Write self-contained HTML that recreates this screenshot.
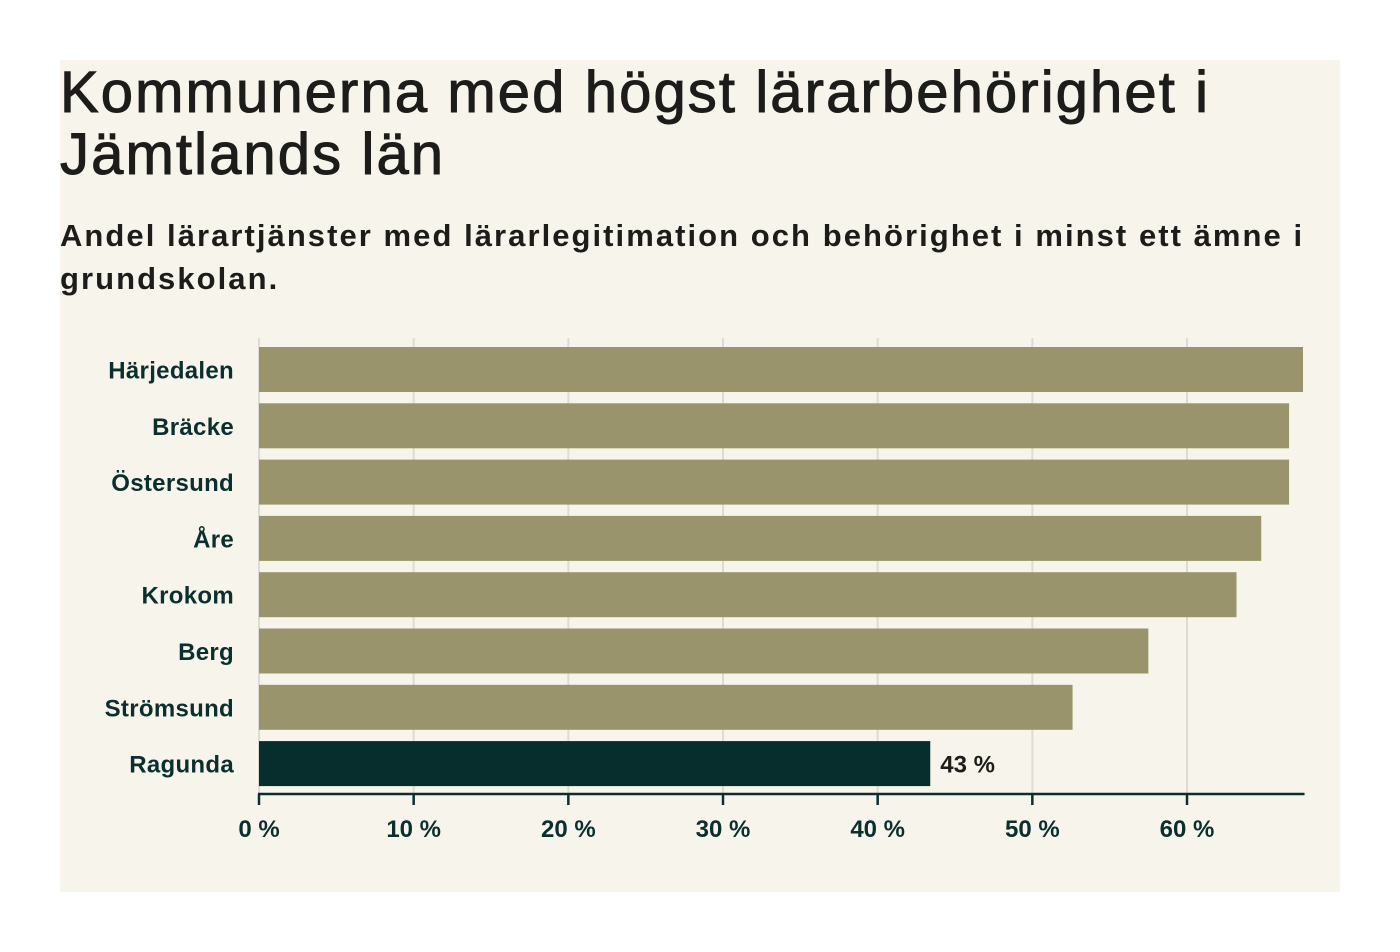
<!DOCTYPE html>
<html><head><meta charset="utf-8">
<style>
html,body{margin:0;padding:0;background:#fff;width:1400px;height:952px;overflow:hidden;}
#panel{position:absolute;left:60px;top:60px;width:1280px;height:832px;background:#f7f5eb;}
h1{position:absolute;left:60px;top:62px;margin:0;font-family:"Liberation Sans",sans-serif;font-weight:400;font-size:58px;line-height:62px;color:#1c1c1a;letter-spacing:2.1px;width:1280px;-webkit-text-stroke:1px #1c1c1a;}
h2{position:absolute;left:60px;top:214px;margin:0;font-family:"Liberation Sans",sans-serif;font-weight:700;font-size:31px;line-height:43px;color:#1c1c1a;width:1280px;letter-spacing:2.05px;}
svg{position:absolute;left:0;top:0;}
</style></head><body>
<div id="panel"></div>
<h1>Kommunerna med högst lärarbehörighet i Jämtlands län</h1>
<h2>Andel lärartjänster med lärarlegitimation och behörighet i minst ett ämne i grundskolan.</h2>
<svg id="chart" width="1400" height="952"></svg>
<script>
const categories=["Härjedalen","Bräcke","Östersund","Åre","Krokom","Berg","Strömsund","Ragunda"];
const values=[67.5,66.6,66.6,64.8,63.2,57.5,52.6,43.4];
const highlight=["Ragunda"];
const ticks=[0,10,20,30,40,50,60];
const tickLabels=["0 %","10 %","20 %","30 %","40 %","50 %","60 %"];
const valueLabels={"Ragunda":"43 %"};

const NS="http://www.w3.org/2000/svg";
const svg=document.getElementById('chart');
const x0=259, pxPer=(1187-259)/60, xMax=67.6;
const x=v=>x0+v*pxPer;
const top0=347, pitch=56.3, bh=45;
const y=i=>top0+i*pitch;
const axisY=794;
function mk(t,a){const e=document.createElementNS(NS,t);for(const k in a)e.setAttribute(k,a[k]);svg.appendChild(e);return e;}
ticks.forEach((t,i)=>{
  const g=mk('line',{x1:x(t),x2:x(t),y1:338,y2:axisY,stroke:'#dddbd3','stroke-width':2});
  
  
});
categories.forEach((c,i)=>{
  const r=mk('rect',{x:x0,y:y(i),width:x(values[i])-x0,height:bh,fill:highlight.includes(c)?'#082d2d':'#99946b'});
  
  
  const l=mk('text',{x:234,y:y(i)+bh/2+9,'text-anchor':'end','font-family':'Liberation Sans, sans-serif','font-size':24,'font-weight':'bold','letter-spacing':0.3,fill:'#0b2e2e'});
  l.textContent=c;
  
  
  if(valueLabels[c]){
    const v=mk('text',{x:x(values[i])+10,y:y(i)+bh/2+9,'font-family':'Liberation Sans, sans-serif','font-size':24,'font-weight':'bold',fill:'#1c1c1a'});
    v.textContent=valueLabels[c];
    
    
  }
});
const ax=mk('line',{x1:x0-1,x2:x(xMax),y1:axisY,y2:axisY,stroke:'#0b2e2e','stroke-width':2.5});


ticks.forEach((t,i)=>{
  const tk=mk('line',{x1:x(t),x2:x(t),y1:axisY,y2:axisY+11,stroke:'#0b2e2e','stroke-width':2.5});
  
  
  const tl=mk('text',{x:x(t),y:837,'text-anchor':'middle','font-family':'Liberation Sans, sans-serif','font-size':24,'font-weight':'bold',fill:'#0b2e2e'});
  tl.textContent=tickLabels[i];
  
  
});
</script>
</body></html>
